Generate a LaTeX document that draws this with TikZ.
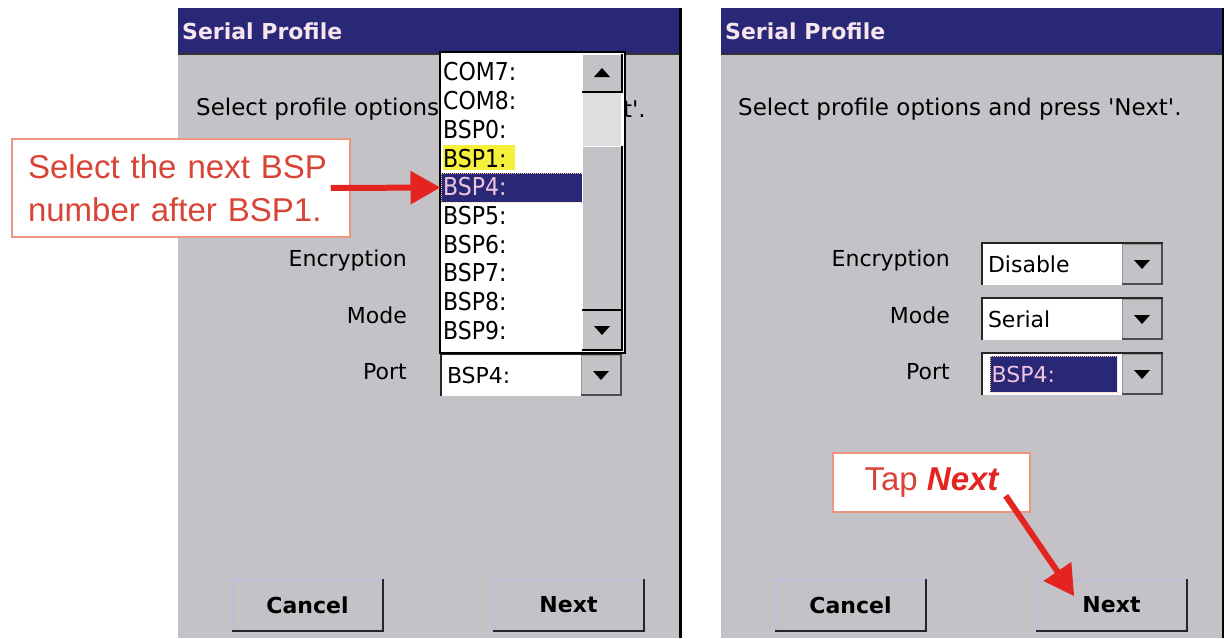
\documentclass[tikz,border=0pt]{standalone}
\usepackage{fontspec}
\setmainfont{DejaVu Sans}
\newfontfamily\callfont{Liberation Sans}
\usetikzlibrary{arrows.meta}
\definecolor{navy}{RGB}{41,40,118}
\definecolor{panelgray}{RGB}{196,194,198}
\definecolor{trackgray}{RGB}{222,221,224}
\definecolor{titletext}{RGB}{246,228,238}
\definecolor{seltext}{RGB}{240,196,222}
\definecolor{calltext}{RGB}{216,68,54}
\definecolor{callline}{RGB}{236,150,128}
\definecolor{arrowred}{RGB}{228,36,32}
\definecolor{hiyellow}{RGB}{246,240,58}
\tikzset{
  TitleText/.style = { anchor = west, inner sep = 0pt, text = titletext,
                       font = \bfseries\fontsize{22}{22}\selectfont },
  UiText/.style = { anchor = west, inner sep = 0pt,
                    font = \fontsize{22}{22}\selectfont },
  FieldLabel/.style = { UiText, anchor = east },
  Button/.style = { rectangle, fill = panelgray, draw = gray!70!blue!40,
                    line width = 1.5pt, minimum width = 149pt, minimum height = 50pt,
                    font = \bfseries\fontsize{22}{22}\selectfont },
  DarkEdge/.style = { line width = 2.5pt, black!85 },
  Combo/.style = { rectangle, fill = white, inner sep = 0pt,
                   minimum width = 181pt, minimum height = 42pt },
  ComboBtn/.style = { rectangle, fill = panelgray, draw = gray!80, inner sep = 0pt,
                      minimum width = 40pt, minimum height = 40pt },
  Callout/.style = { rectangle, fill = white, draw = callline, line width = 1.5pt,
                     text = calltext, font = \callfont\fontsize{33}{43}\selectfont },
  CallArrow/.style = { arrowred, line width = 6pt,
                       -{Triangle[length = 30pt, width = 32pt]} }
}
\begin{document}
\begin{tikzpicture}[x=1pt,y=-1pt]
  \useasboundingbox[fill=white] (0,0) rectangle (1224,638);

  % the two screens
  \foreach \p/\dx in {L/0,R/543}{
    \begin{scope}[xshift=\dx pt]
      \fill[panelgray] (178,8) rectangle (681,638);
      \fill[navy] (178,8) rectangle (681,54);
      \draw[line width=1.5pt, black!80] (178,54) -- (681,54);
      \draw[line width=3pt] (680,8) -- (680,638);
      \node[TitleText] (title\p) at (182,31) {Serial Profile};
      \node[FieldLabel] (enc\p) at (407,260) {Encryption};
      \node[FieldLabel] (mode\p) at (407,315) {Mode};
      \node[FieldLabel] (port\p) at (407,372) {Port};
      \node[Button] (cancel\p) at (307.5,605) {Cancel};
      \node[Button] (next\p) at (568.5,605) {Next};
      \draw[DarkEdge] (cancel\p.north east) -- (cancel\p.south east) -- (cancel\p.south west);
      \draw[DarkEdge] (next\p.north east) -- (next\p.south east) -- (next\p.south west);
    \end{scope}
  }
  \node[UiText, font=\fontsize{23}{23}\selectfont] (hintL) at (196,109) {Select profile options};
  \node[UiText, font=\fontsize{23}{23}\selectfont, anchor=east] (hintEndL) at (646,109)
        {t\textquotesingle.};
  \node[UiText, font=\fontsize{23}{23}\selectfont] (hintR) at (738,109)
        {Select profile options and press \textquotesingle Next\textquotesingle.};

  % combo boxes
  \foreach \n/\x/\y/\v in {encBox/1072.5/264/Disable, modeBox/1072.5/319/Serial,
                          portBoxR/1072.5/374/{}, portBoxL/531.5/375/BSP4:}{
    \node[Combo] (\n) at (\x,\y) {};
    \draw[DarkEdge] (\n.south west) -- (\n.north west) -- (\n.north east);
    \node[ComboBtn, anchor=east] (\n Btn) at ([xshift=-1pt]\n.east) {};
    \draw[gray!60!black, line width=2pt] (\n Btn.north east) -- (\n Btn.south east) -- (\n Btn.south west);
    \fill (\n Btn.center) ++(-8,-4) -- ++(16,0) -- ++(-8,9) -- cycle;
    \node[UiText] (\n Val) at ([xshift=6pt]\n.west) {\v};
  }
  \node[rectangle, fill=navy, draw=white!60!orange, densely dotted, line width=1pt,
        minimum width=127pt, minimum height=36pt] (portSel) at (1053.5,374) {};
  \node[UiText, text=seltext] (portSelVal) at ([xshift=2pt]portSel.west) {BSP4:};

  % open port list
  \node[rectangle, fill=white, draw=black, line width=2.5pt,
        minimum width=185pt, minimum height=301pt] (list) at (532.5,202.5) {};
  \fill[hiyellow] (443,145) rectangle (515,170);
  \node[rectangle, fill=navy, draw=white!60!orange, densely dotted, line width=1pt,
        minimum width=142pt, minimum height=29pt] (sel) at (512,187.5) {};
  \foreach \t/\c [count=\i from 0] in {COM7:/black,COM8:/black,BSP0:/black,BSP1:/black,
                                       BSP4:/seltext,BSP5:/black,BSP6:/black,BSP7:/black,
                                       BSP8:/black,BSP9:/black}
    \node[UiText, text=\c, yscale=1.12] (item\i) at (443,{72+28.7*\i}) {\t};
  \fill[trackgray] (583,92) rectangle (621,146);
  \node[ComboBtn, minimum height=38pt, draw=white] (up) at (602,73) {};
  \node[ComboBtn, minimum height=164pt, draw=white] (thumb) at (602,228) {};
  \node[ComboBtn, minimum height=40pt, draw=white] (down) at (602,330) {};
  \foreach \b in {up,thumb,down}
    \draw[black, line width=2pt] (\b.north east) -- (\b.south east) -- (\b.south west);
  \fill (up.center) ++(-8,4) -- ++(16,0) -- ++(-8,-9) -- cycle;
  \fill (down.center) ++(-8,-4) -- ++(16,0) -- ++(-8,9) -- cycle;

  % callouts
  \node[Callout, minimum width=338pt, minimum height=98pt, inner xsep=16pt,
        text width=306pt, align=left] (callSel) at (181,188)
        {Select the next BSP\\number after BSP1.};
  \node[Callout, minimum width=197pt, minimum height=59pt] (callTap) at (931.5,482.5)
        {Tap {\color{arrowred}\bfseries\itshape Next}\hspace{12pt}};
  \draw[CallArrow] ([xshift=-20pt]callSel.east) -- (sel.west);
  \draw[CallArrow] ([xshift=-25pt,yshift=17pt]callTap.south east)
        -- ([xshift=38pt,yshift=-17pt]nextR.north west);
\end{tikzpicture}
\end{document}
